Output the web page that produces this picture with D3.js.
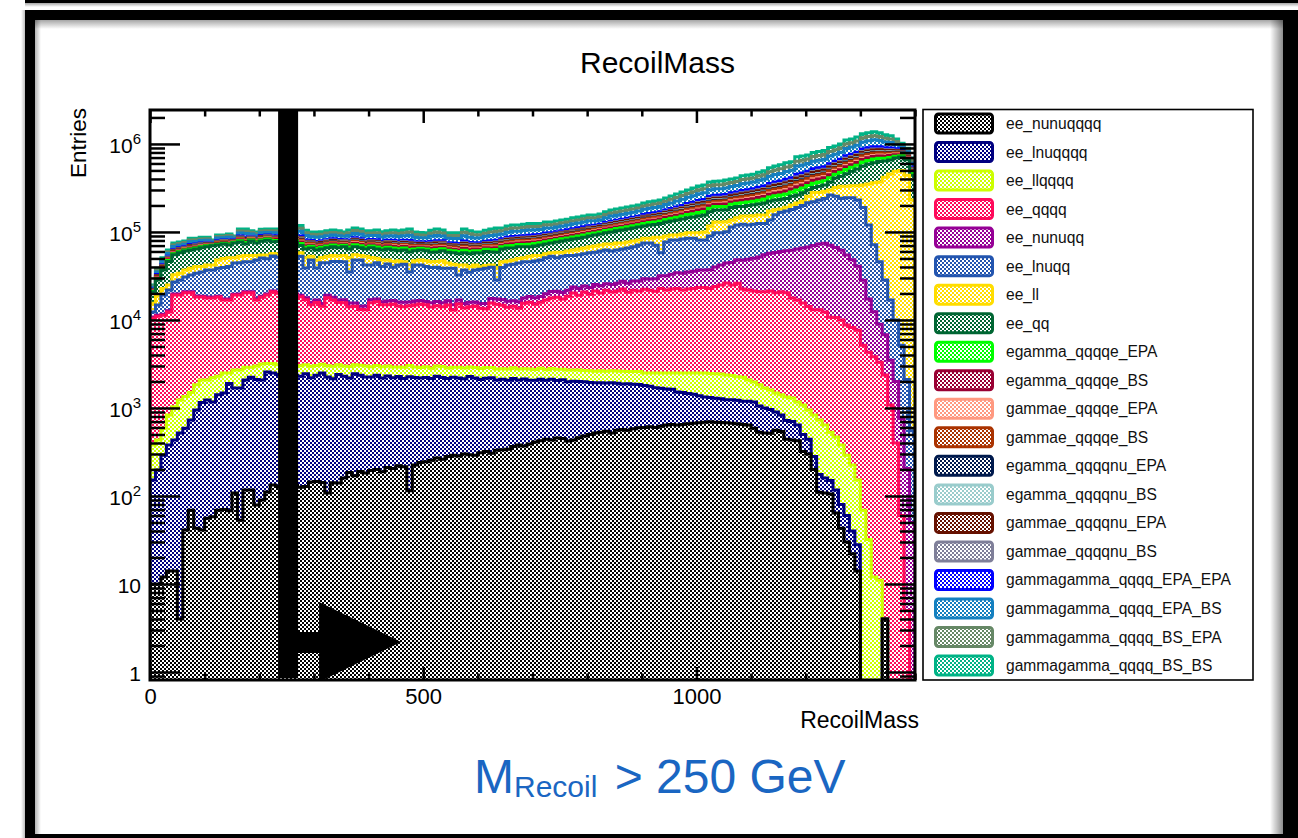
<!DOCTYPE html>
<html>
<head>
<meta charset="utf-8">
<script src="https://cdn.jsdelivr.net/npm/d3@7"></script>
<style>
html, body { margin: 0; padding: 0; background: #fff; }
svg { display: block; font-family: "Liberation Sans", Arial, Helvetica, sans-serif; }
</style>
</head>
<body>
<svg id="chart" width="1298" height="838"></svg>
<script>
// ---- histogram binning (GeV) ----
const binWidth = 10;
const xRange = [0, 1400];
const cutValue = 250;

// ---- samples, bottom of the stack first ----
const seriesNames = [
  "ee_nunuqqqq", "ee_lnuqqqq", "ee_llqqqq", "ee_qqqq", "ee_nunuqq", "ee_lnuqq", "ee_ll", "ee_qq",
  "egamma_qqqqe_EPA", "egamma_qqqqe_BS", "gammae_qqqqe_EPA", "gammae_qqqqe_BS",
  "egamma_qqqqnu_EPA", "egamma_qqqqnu_BS", "gammae_qqqqnu_EPA", "gammae_qqqqnu_BS",
  "gammagamma_qqqq_EPA_EPA", "gammagamma_qqqq_EPA_BS", "gammagamma_qqqq_BS_EPA", "gammagamma_qqqq_BS_BS"
];
const seriesColors = [
  "#000000", "#000080", "#ccff00", "#ff0a5a", "#960096", "#2355af", "#ffdd00", "#006633",
  "#00ff00", "#990033", "#ff9980", "#aa3300",
  "#001a4d", "#99cccc", "#661100", "#7f7f99",
  "#0000ff", "#1480c0", "#668866", "#00b386"
];

// ---- entries per bin ----
const ee_nunuqqqq = [10,10,12,14,14,4,41,69,43,41,
56,58,69,70,68,108,53,117,117,79,
90,111,133,128,135,140,132,126,128,144,
146,142,108,141,140,160,185,170,190,182,
195,200,188,210,205,220,215,115,225,240,
245,255,270,262,280,290,285,300,295,290,
310,320,305,330,335,340,365,380,370,390,
410,425,440,433,455,450,420,433,460,480,
500,520,530,545,520,560,570,560,580,595,
600,610,600,620,640,650,640,650,660,670,
680,690,695,690,685,680,670,660,650,640,
590,530,520,515,560,540,440,433,425,320,
300,200,110,108,105,64,43,30,22,14,
0,0,0,0,4,0,0,0,0,0];

const ee_lnuqqqq = [142,187,278,366,419,516,549,661,907,1109,
1174,1112,1341,1410,1832,1582,1637,1963,2123,2021,
1990,2449,2367,2270,2360,2320,2220,2170,2320,2060,
2200,2360,2140,2010,2260,2140,2010,2280,2160,2070,
2050,2150,2000,2100,2000,2060,1950,2150,2000,1950,
1980,1900,2020,1950,1880,1950,1900,1850,1980,1900,
1800,1850,1900,1750,1780,1720,1800,1700,1760,1680,
1650,1700,1620,1680,1600,1640,1560,1580,1540,1500,
1450,1420,1400,1380,1420,1350,1300,1330,1280,1250,
1200,1150,1100,1050,1000,980,880,850,800,760,
700,640,620,600,590,560,570,560,540,550,
580,520,480,445,340,290,280,267,215,180,
140,80,65,52,45,53,37,30,18,14,
0,0,0,0,0,0,0,0,0,0];

const ee_llqqqq = [228,236,300,450,600,710,760,770,880,930,
850,1030,890,1020,600,1010,1010,820,660,900,
1070,640,700,700,650,720,680,720,650,780,
700,640,760,820,690,700,760,640,700,740,
700,680,760,690,720,650,740,780,700,690,
720,680,700,740,690,660,720,700,650,700,
690,720,680,700,670,720,690,700,660,710,
680,700,650,690,700,660,720,680,700,690,
700,680,720,690,700,720,740,710,730,750,
700,740,800,830,860,870,980,1000,1040,1070,
1120,1170,1150,1150,1150,1130,1100,1050,1050,890,
800,780,690,640,580,580,610,600,530,580,
510,550,555,480,380,350,300,230,185,124,
69,32,12,11,0,0,0,0,0,0];

const ee_qqqq = [10100,10600,10700,11500,18200,18000,19000,18900,16400,16100,
15700,15600,15900,14400,14400,16500,16500,17500,17500,13900,
15000,16000,17700,17000,16500,17000,16000,15300,13900,11900,
12700,11200,14900,13900,12700,12700,11200,11200,10100,10100,
12700,13100,11900,11900,12300,11500,11200,11500,11900,12300,
11900,11200,11500,11200,11900,10100,12300,10800,11200,11500,
10800,10500,12700,12300,11900,11200,11500,10800,12700,13100,
12300,13100,14100,15000,15400,14500,15900,17600,16400,18100,
17000,18700,17600,19200,18100,18700,19800,18100,19200,18700,
19800,19200,18700,20300,19400,20000,20300,19400,20000,20300,
20900,20900,20300,21600,22600,23900,22600,23900,20300,19800,
19400,19100,19200,19800,18900,19500,19000,16500,15700,14500,
13300,12200,12300,11700,10200,10200,9600,8500,8000,7500,
5100,4270,3800,3300,2370,1080,400,60,5,0];

const ee_nunuqq = [300,300,300,400,500,500,500,500,450,400,
400,400,450,450,400,400,500,500,500,500,
500,500,500,600,600,700,700,800,900,1000,
1100,1000,1200,1200,1100,1300,1400,1300,1200,1300,
1300,1200,1300,1500,1400,1600,1800,1500,1600,1500,
1400,1600,1700,1500,1800,1900,1600,1700,1800,1600,
1800,2000,1900,2200,2400,2300,2200,2500,2300,2600,
2800,2600,3000,3200,3000,3300,3100,3400,3600,3500,
3800,4000,4200,4000,4500,4800,5200,5500,6000,6500,
7000,7500,8200,9000,9800,10500,11500,12000,12500,13000,
13500,13600,14500,16000,17000,18000,20000,22000,25000,27000,
29000,31000,34000,36000,38000,39000,41000,44000,47000,50000,
53000,57000,60000,62000,60000,56000,52000,46000,40000,33000,
23000,13000,8600,5600,4400,2400,1600,700,200,50];

const ee_lnuqq = [1500,3500,7600,9200,7300,8800,10000,11600,15300,16400,
18800,18800,20000,22200,23200,24900,24900,25000,25000,30600,
32000,30000,32000,31000,30000,32000,31000,34000,21000,32000,
22000,29300,25500,28000,29300,29000,19400,32500,33800,27700,
25300,27300,24400,26700,23000,26200,27000,19100,25800,25500,
24300,23800,23500,23000,22100,23800,15700,21500,19000,20900,
22200,23200,22100,11100,22400,25700,26300,28200,28100,27400,
29000,29400,31100,32000,29800,32400,32200,30200,32200,32100,
34500,33600,36400,36500,35600,36200,36300,39600,40100,43100,
45500,45600,41400,26200,45200,48000,46700,49000,50000,49200,
44100,44000,52700,58000,56000,56000,69000,72000,74500,71000,
72000,73000,70000,79600,98000,107000,112000,118000,126000,134000,
147000,150000,158000,166000,192000,188000,178000,190000,197000,190000,
162000,103000,59000,37000,21700,13400,8000,4400,1900,500];

const ee_ll = [3200,3900,3600,3100,5500,5500,6000,6200,6500,5500,
5200,5200,9300,10400,10500,6500,8500,8000,8000,6000,
4000,5000,3500,4000,4500,4000,4500,5000,12000,5000,
9000,6500,8500,8000,7000,8000,16000,7000,6000,11000,
9000,5500,7500,5000,6400,4800,3000,7200,4800,5800,
6500,6400,6400,8300,5800,4300,9700,5200,5500,5200,
2700,3000,2600,11000,6400,4800,5000,5500,5000,7000,
7000,6000,5500,5000,8000,6000,7000,8400,9000,9500,
10000,10500,10000,10600,12000,12600,11000,11000,11000,10000,
10000,10000,16000,29000,13000,11500,11500,12000,13000,13000,
17000,19000,27000,32000,32000,30000,23000,25000,30000,32000,
30000,31000,31000,36000,22000,15000,17000,23000,24000,25000,
41000,60000,49000,50000,37000,65000,90000,85000,90000,104000,
152000,230000,290000,324000,390000,440000,480000,495000,440000,230000];

const ee_qq = [5300,9800,14200,21000,22500,24000,24000,23700,23500,25500,
25800,27300,23000,23000,20000,24000,24000,19000,25000,21000,
24000,26000,20500,22000,20000,23000,21000,12000,13000,13000,
14400,13000,13000,14000,13000,14000,13000,13000,12000,11000,
15000,14000,14400,16000,16400,14000,16400,17000,14000,14400,
14000,13000,13000,14000,14500,15000,14300,15800,16000,15800,
17500,18500,16800,19400,18000,19000,18000,18000,17000,15000,
15500,17000,16500,17000,18000,20000,20000,20600,21000,21000,
22000,23000,24000,25000,27000,28000,30000,31000,32000,33000,
32000,35000,35000,38000,40000,41000,44000,45000,47000,50000,
54000,56000,53000,48000,48000,48000,53000,50000,43000,48000,
51000,52000,58000,52000,53000,53000,50000,52000,49000,55000,
45000,40000,50000,52000,70000,90000,100000,130000,155000,185000,
220000,240000,250000,260000,220000,200000,200000,210000,220000,210000];

const egamma_qqqqe_EPA = [340,800,1100,1300,1600,1500,1400,1800,1700,1700,
1500,920,1700,1600,1900,1200,2500,2800,1900,2000,
2300,2200,2500,2400,2600,2500,2600,3800,3300,2700,
3000,2900,3000,3000,3000,2600,3300,3400,3400,3100,
3000,3300,3000,3100,3400,3400,3400,3900,3100,2900,
3000,3700,3900,3500,3100,3200,3300,4000,3700,3400,
3400,3500,3900,4200,3800,4100,4300,4200,4300,4600,
4400,4300,4600,4400,4500,4600,4700,5000,5000,5200,
5300,5100,5200,5800,6200,6300,6600,6700,6900,7100,
7800,8000,8200,8500,9000,9800,10600,11500,12400,13400,
14500,14900,16000,16000,16000,16800,16800,17200,19200,19500,
20000,21600,22400,24800,26400,27700,29600,30000,36000,36000,
36000,38400,39200,40000,43200,43200,45600,52000,52000,54400,
59200,60000,60800,56800,50400,46400,36000,24800,18400,20000];

const egamma_qqqqe_BS = [250,600,840,980,1200,1140,1080,1360,1260,1260,
1140,690,1290,1170,1440,900,1860,2100,1440,1500,
1740,1620,1860,1800,1920,1860,1980,2880,2460,2040,
2280,2160,2220,2220,2220,1920,2460,2580,2520,2340,
2220,2460,2280,2340,2580,2520,2580,2940,2340,2160,
2220,2760,2940,2640,2340,2400,2490,3000,2790,2520,
2520,2640,2940,3120,2820,3060,3240,3120,3240,3420,
3330,3240,3420,3300,3360,3480,3540,3720,3780,3900,
3960,3810,3900,4320,4680,4740,4920,5040,5160,5340,
5820,6000,6180,6360,6780,7320,7980,8640,9300,10020,
10860,11160,12000,12000,12000,12600,12600,12900,14400,14640,
15000,16200,16800,18600,19800,20760,22200,22500,27000,27000,
27000,28800,29400,30000,32400,32400,34200,39000,39000,40800,
44400,45000,45600,42600,37800,34800,27000,18600,13800,15000];

const gammae_qqqqe_EPA = [130,300,420,490,600,570,540,680,630,630,
570,350,650,590,720,450,930,1050,720,750,
870,810,930,900,960,930,990,1440,1230,1020,
1140,1080,1110,1110,1110,960,1230,1290,1260,1170,
1110,1230,1140,1170,1290,1260,1290,1470,1170,1080,
1110,1380,1470,1320,1170,1200,1250,1500,1400,1260,
1260,1320,1470,1560,1410,1530,1620,1560,1620,1710,
1670,1620,1710,1650,1680,1740,1770,1860,1890,1950,
1980,1910,1950,2160,2340,2370,2460,2520,2580,2670,
2910,3000,3090,3180,3390,3660,3990,4320,4650,5010,
5430,5580,6000,6000,6000,6300,6300,6450,7200,7320,
7500,8100,8400,9300,9900,10380,11100,11250,13500,13500,
13500,14400,14700,15000,16200,16200,17100,19500,19500,20400,
22200,22500,22800,21300,18900,17400,13500,9300,6900,7500];

const gammae_qqqqe_BS = [270,640,800,1050,1150,1200,1000,1400,1300,1200,
1200,720,1250,1100,1500,950,1800,2000,1500,1450,
1800,1700,1800,1850,1900,1900,2050,2800,2400,2100,
2200,2250,2300,2150,2300,2000,2400,2500,2600,2300,
2300,2400,2350,2300,2500,2600,2500,2900,2400,2200,
2300,2700,2850,2700,2300,2450,2550,2900,2850,2450,
2600,2700,2850,3200,2900,3000,3300,3050,3300,3350,
3400,3200,3500,3250,3400,3550,3450,3800,3700,4000,
4050,3750,4000,4250,4750,4650,5000,4950,5250,5250,
5900,5900,6300,6250,6900,7200,8100,8500,9400,9900,
11000,11000,12200,11800,12200,12400,12800,12700,14600,14400,
15300,16000,17100,18300,20100,20500,22600,22200,27400,26600,
27500,28400,29900,29600,32900,32000,34700,38500,39600,40200,
45000,44500,46200,42000,38400,34300,27400,18300,14000,14800];

const egamma_qqqqnu_EPA = [84,200,280,330,400,380,360,450,420,420,
380,230,430,390,480,300,620,700,480,500,
580,540,620,600,640,620,660,960,820,680,
760,720,740,740,740,640,820,860,840,780,
740,820,760,780,860,840,860,980,780,720,
740,920,980,880,780,800,830,1000,930,840,
840,880,980,1040,940,1020,1080,1040,1080,1140,
1110,1080,1140,1100,1120,1160,1180,1240,1260,1300,
1320,1270,1300,1440,1560,1580,1640,1680,1720,1780,
1940,2000,2060,2120,2260,2440,2660,2880,3100,3340,
3620,3720,4000,4000,4000,4200,4200,4300,4800,4880,
5000,5400,5600,6200,6600,6920,7400,7500,9000,9000,
9000,9600,9800,10000,10800,10800,11400,13000,13000,13600,
14800,15000,15200,14200,12600,11600,9000,6200,4600,5000];

const egamma_qqqqnu_BS = [90,190,290,320,410,370,370,440,430,410,
390,220,440,380,490,290,630,690,490,490,
590,530,630,590,650,610,670,950,830,670,
770,710,750,730,750,630,830,850,850,770,
750,810,770,770,870,830,870,970,790,710,
750,910,990,870,790,790,840,990,940,830,
850,870,990,1030,950,1010,1090,1030,1090,1130,
1120,1070,1150,1090,1130,1150,1190,1230,1270,1290,
1330,1260,1310,1430,1570,1570,1650,1670,1730,1770,
1950,1990,2070,2110,2270,2430,2670,2870,3110,3330,
3630,3710,4010,3990,4010,4190,4210,4290,4810,4870,
5010,5390,5610,6190,6610,6910,7410,7490,9010,8990,
9010,9590,9810,9990,10810,10790,11410,12990,13010,13590,
14810,14990,15210,14190,12610,11590,9010,6190,4610,4990];

const gammae_qqqqnu_EPA = [210,500,700,820,1000,950,900,1130,1050,1050,
950,580,1080,980,1200,750,1550,1750,1200,1250,
1450,1350,1550,1500,1600,1550,1650,2400,2050,1700,
1900,1800,1850,1850,1850,1600,2050,2150,2100,1950,
1850,2050,1900,1950,2150,2100,2150,2450,1950,1800,
1850,2300,2450,2200,1950,2000,2080,2500,2330,2100,
2100,2200,2450,2600,2350,2550,2700,2600,2700,2850,
2780,2700,2850,2750,2800,2900,2950,3100,3150,3250,
3300,3180,3250,3600,3900,3950,4100,4200,4300,4450,
4850,5000,5150,5300,5650,6100,6650,7200,7750,8350,
9050,9300,10000,10000,10000,10500,10500,10750,12000,12200,
12500,13500,14000,15500,16500,17300,18500,18750,22500,22500,
22500,24000,24500,25000,27000,27000,28500,32500,32500,34000,
37000,37500,38000,35500,31500,29000,22500,15500,11500,12500];

const gammae_qqqqnu_BS = [120,310,400,510,580,590,520,700,610,650,
550,360,630,610,700,470,900,1080,700,770,
850,830,900,920,940,950,970,1400,1250,1000,
1160,1060,1130,1090,1130,940,1250,1270,1280,1150,
1130,1210,1160,1150,1310,1240,1310,1450,1190,1060,
1130,1360,1490,1300,1190,1180,1270,1480,1420,1240,
1280,1300,1490,1540,1430,1510,1640,1540,1640,1690,
1690,1600,1730,1630,1700,1720,1790,1840,1910,1930,
2000,1890,1970,2140,2370,2340,2490,2490,2610,2640,
2940,2970,3120,3150,3430,3620,4030,4280,4700,4960,
5490,5520,6070,5940,6060,6240,6370,6380,7280,7250,
7580,8020,8490,9210,10000,10280,11200,11140,13600,13370,
13640,14260,14850,14850,16360,16040,17270,19310,19700,20200,
22400,22300,23000,21100,19100,17200,13600,9200,7000,7400];

const gammagamma_qqqq_EPA_EPA = [290,700,980,1150,1400,1330,1260,1580,1470,1470,
1330,800,1500,1370,1680,1050,2170,2450,1680,1750,
2030,1890,2170,2100,2240,2170,2310,3360,2870,2380,
2660,2520,2590,2590,2590,2240,2870,3010,2940,2730,
2590,2870,2660,2730,3010,2940,3010,3430,2730,2520,
2590,3220,3430,3080,2730,2800,2900,3500,3260,2940,
2940,3080,3430,3640,3290,3570,3780,3640,3780,3990,
3890,3780,3990,3850,3920,4060,4130,4340,4410,4550,
4620,4450,4550,5040,5460,5530,5740,5880,6020,6230,
6790,7000,7210,7420,7910,8540,9310,10080,10850,11690,
12670,13020,14000,14000,14000,14700,14700,15050,16800,17080,
17500,18900,19600,21700,23100,24220,25900,26250,31500,31500,
31500,33600,34300,35000,37800,37800,39900,45500,45500,47600,
51800,52500,53200,49700,44100,40600,31500,21700,16100,17500];

const gammagamma_qqqq_EPA_BS = [1000,2400,3400,3900,4800,4600,4300,5400,5000,5000,
4600,2800,5200,4700,5800,3600,7400,8400,5800,6000,
7000,6500,7400,7200,7700,7400,7900,11500,9800,8200,
9100,8600,8900,8900,8900,7700,9800,10300,10100,9400,
8900,9800,9100,9400,10300,10100,10300,11800,9400,8600,
8900,11000,11800,10600,9400,9600,10000,12000,11200,10100,
10100,10600,11800,12500,11300,12200,13000,12500,13000,13700,
13300,13000,13700,13200,13400,13900,14200,14900,15100,15600,
15800,15200,15600,17300,18700,19000,19700,20200,20600,21400,
23300,24000,24700,25400,27100,29300,31900,34600,37200,40100,
43400,44600,48000,48000,48000,50400,50400,51600,57600,58600,
60000,64800,67200,74400,79200,83000,88800,90000,108000,108000,
108000,115000,118000,120000,130000,130000,137000,156000,156000,163000,
178000,180000,182000,170000,151000,139000,108000,74400,55200,60000];

const gammagamma_qqqq_BS_EPA = [710,1700,2400,2800,3400,3200,3100,3800,3600,3600,
3200,2000,3700,3300,4100,2600,5300,6000,4100,4300,
4900,4600,5300,5100,5400,5300,5600,8200,7000,5800,
6500,6100,6300,6300,6300,5400,7000,7300,7100,6600,
6300,7000,6500,6600,7300,7100,7300,8300,6600,6100,
6300,7800,8300,7500,6600,6800,7100,8500,7900,7100,
7100,7500,8300,8800,8000,8700,9200,8800,9200,9700,
9400,9200,9700,9400,9500,9900,10000,10500,10700,11100,
11200,10800,11100,12200,13300,13400,13900,14300,14600,15100,
16500,17000,17500,18000,19200,20700,22600,24500,26400,28400,
30800,31600,34000,34000,34000,35700,35700,36600,40800,41500,
42500,45900,47600,52700,56100,58800,62900,63800,76500,76500,
76500,81600,83300,85000,91800,91800,96900,110500,110500,115600,
125800,127500,129200,120700,107100,98600,76500,52700,39100,42500];

const gammagamma_qqqq_BS_BS = [700,1750,2350,2850,3350,3250,3050,3850,3550,3650,
3150,2050,3650,3350,4050,2650,5250,6050,4050,4350,
4850,4650,5250,5150,5350,5350,5550,8250,6950,5850,
6450,6150,6250,6350,6250,5450,6950,7350,7050,6650,
6250,7050,6450,6650,7250,7150,7250,8350,6550,6150,
6250,7850,8250,7550,6550,6850,7050,8550,7850,7150,
7050,7550,8250,8850,7950,8750,9150,8850,9150,9750,
9350,9250,9650,9450,9450,9950,9950,10550,10650,11150,
11150,10850,11050,12250,13250,13450,13850,14350,14550,15150,
16450,17050,17450,18050,19150,20750,22550,24550,26350,28450,
30750,31650,33950,34050,33950,35750,35650,36650,40750,41550,
42450,45950,47550,52750,56050,58850,62850,63850,76450,76550,
76450,81650,83250,85050,91750,91850,96850,110550,110450,115650,
125750,127550,129150,120750,107050,98650,76450,52750,39050,42550];

const seriesValues = [
  ee_nunuqqqq, ee_lnuqqqq, ee_llqqqq, ee_qqqq, ee_nunuqq, ee_lnuqq, ee_ll, ee_qq,
  egamma_qqqqe_EPA, egamma_qqqqe_BS, gammae_qqqqe_EPA, gammae_qqqqe_BS,
  egamma_qqqqnu_EPA, egamma_qqqqnu_BS, gammae_qqqqnu_EPA, gammae_qqqqnu_BS,
  gammagamma_qqqq_EPA_EPA, gammagamma_qqqq_EPA_BS, gammagamma_qqqq_BS_EPA, gammagamma_qqqq_BS_BS
];

// ---- axis ticks ----
const xMajorTicks = [0, 500, 1000];
const yMajorTicks = [1, 10, 100, 1000, 10000, 100000, 1000000];

// ================= drawing =================
const W = 1298, H = 838;
const plot = { left: 150, right: 915, top: 110, bottom: 680 };
const yDomain = [0.811, 2.43e6];
const FONT = '"Liberation Sans", Arial, Helvetica, sans-serif';

const svg = d3.select("#chart");
const defs = svg.append("defs");

// checkerboard fill per sample
seriesNames.forEach((name, i) => {
  const p = defs.append("pattern")
    .attr("id", "pat" + i).attr("width", 4).attr("height", 4)
    .attr("patternUnits", "userSpaceOnUse");
  p.append("rect").attr("width", 4).attr("height", 4).attr("fill", "#fff");
  p.append("rect").attr("width", 2).attr("height", 2).attr("fill", seriesColors[i]);
  p.append("rect").attr("x", 2).attr("y", 2).attr("width", 2).attr("height", 2).attr("fill", seriesColors[i]);
});

// soft shading used along the slide frame
function addGrad(id, x1, y1, x2, y2, stops) {
  const g = defs.append("linearGradient").attr("id", id)
    .attr("x1", x1).attr("y1", y1).attr("x2", x2).attr("y2", y2);
  stops.forEach(s => g.append("stop").attr("offset", s[0]).attr("stop-color", "#000").attr("stop-opacity", s[1]));
}
addGrad("shTop", 0, 0, 0, 1, [[0, 0.35], [1, 0]]);
addGrad("shLeft", 0, 0, 1, 0, [[0, 0.3], [1, 0]]);
addGrad("shRight", 0, 0, 1, 0, [[0, 0], [1, 0.45]]);
addGrad("shOut", 0, 0, 1, 0, [[0, 0], [1, 0.25]]);

defs.append("clipPath").attr("id", "plotClip")
  .append("rect").attr("x", plot.left).attr("y", plot.top)
  .attr("width", plot.right - plot.left).attr("height", plot.bottom - plot.top);

// background and slide frame
svg.append("rect").attr("width", W).attr("height", H).attr("fill", "#fff");
svg.append("rect").attr("x", 25).attr("y", 0).attr("width", W - 25).attr("height", 3).attr("fill", "#000");
svg.append("rect").attr("x", 25).attr("y", 3).attr("width", W - 25).attr("height", 4).attr("fill", "url(#shTop)");
svg.append("rect").attr("x", 21).attr("y", 10).attr("width", 4).attr("height", H - 10).attr("fill", "url(#shOut)");
svg.append("path")
  .attr("d", `M25,10H${W}V${H}H25Z M35,20V834H1283V20Z`)
  .attr("fill", "#000").attr("fill-rule", "evenodd");
svg.append("rect").attr("x", 35).attr("y", 20).attr("width", 1248).attr("height", 9).attr("fill", "url(#shTop)");
svg.append("rect").attr("x", 35).attr("y", 20).attr("width", 6).attr("height", 814).attr("fill", "url(#shLeft)");
svg.append("rect").attr("x", 1270).attr("y", 20).attr("width", 13).attr("height", 814).attr("fill", "url(#shRight)");

// scales
const x = d3.scaleLinear().domain(xRange).range([plot.left, plot.right]);
const y = d3.scaleLog().domain(yDomain).range([plot.bottom, plot.top]);
const yPix = v => (v > yDomain[0] ? y(v) : plot.bottom + 5);

// stacked histogram
const nBins = ee_nunuqqqq.length;
const rows = d3.range(nBins).map(i => {
  const r = { bin: i };
  seriesNames.forEach((n, k) => { r[n] = seriesValues[k][i]; });
  return r;
});
const stacked = d3.stack().keys(seriesNames)(rows);

const area = d3.area().curve(d3.curveStepAfter)
  .x(d => x(d[0])).y0(plot.bottom + 5).y1(d => yPix(d[1]));
const line = d3.line().curve(d3.curveStepAfter)
  .x(d => x(d[0])).y(d => yPix(d[1]));

const histG = svg.append("g").attr("clip-path", "url(#plotClip)");

// each sample is painted from the axis floor up to its cumulative height,
// top of the stack first so lower samples are drawn over it
for (let k = stacked.length - 1; k >= 0; k--) {
  const layer = stacked[k];
  const pts = layer.map((d, i) => [i * binWidth, d[1]]);
  pts.push([nBins * binWidth, layer[nBins - 1][1]]);
  histG.append("path").attr("d", area(pts)).attr("fill", `url(#pat${k})`);
  const outline = [[0, 0]].concat(pts, [[nBins * binWidth, 0]]);
  histG.append("path").attr("d", line(outline))
    .attr("fill", "none").attr("stroke", seriesColors[k])
    .attr("stroke-width", 3).attr("stroke-linejoin", "miter");
}

// cut marker at the recoil-mass threshold
const cx = x(cutValue);
const arrowPath = [
  `M${cx - 8.5},${plot.top}`, `H${cx + 11.5}`, "V632", `H${cx + 32.5}`, "V602",
  `L${cx + 114.5},642`, `L${cx + 32.5},682`, "V653", `H${cx + 11.5}`, "V678", `H${cx - 8.5}`, "Z"
].join(" ");
histG.append("path").attr("d", arrowPath).attr("fill", "#000");

// axes (ticks drawn inside the frame)
const yMinorTicks = [];
for (let e = -1; e <= 6; e++) {
  for (let m = 2; m <= 9; m++) {
    const v = m * Math.pow(10, e);
    if (v > yDomain[0] && v < yDomain[1]) yMinorTicks.push(v);
  }
}
const xMinorTicks = d3.range(xRange[0], xRange[1] + 1, 100).filter(v => !xMajorTicks.includes(v));

function styleAxis(g) {
  g.select(".domain").remove();
  g.selectAll(".tick line").attr("stroke", "#000").attr("stroke-width", 2.5);
}
svg.append("g").attr("transform", `translate(${plot.left},0)`)
  .call(d3.axisLeft(y).tickValues(yMinorTicks).tickSize(-15).tickFormat("")).call(styleAxis);
svg.append("g").attr("transform", `translate(${plot.left},0)`)
  .call(d3.axisLeft(y).tickValues(yMajorTicks).tickSize(-30).tickFormat("")).call(styleAxis);
svg.append("g").attr("transform", `translate(${plot.right},0)`)
  .call(d3.axisRight(y).tickValues(yMinorTicks).tickSize(-15).tickFormat("")).call(styleAxis);
svg.append("g").attr("transform", `translate(${plot.right},0)`)
  .call(d3.axisRight(y).tickValues(yMajorTicks).tickSize(-30).tickFormat("")).call(styleAxis);

svg.append("g").attr("transform", `translate(0,${plot.top})`)
  .call(d3.axisTop(x).tickValues(xMinorTicks).tickSize(-6.5).tickFormat("")).call(styleAxis);
svg.append("g").attr("transform", `translate(0,${plot.top})`)
  .call(d3.axisTop(x).tickValues(xMajorTicks).tickSize(-13).tickFormat("")).call(styleAxis);
svg.append("g").attr("transform", `translate(0,${plot.bottom})`)
  .call(d3.axisBottom(x).tickValues(xMinorTicks).tickSize(-6.5).tickFormat("")).call(styleAxis);
const xAxisG = svg.append("g").attr("transform", `translate(0,${plot.bottom})`)
  .call(d3.axisBottom(x).tickValues(xMajorTicks).tickSize(-13).tickPadding(8).tickFormat(d3.format("d")))
  .call(styleAxis);
xAxisG.attr("font-family", FONT).attr("font-size", 22);
xAxisG.selectAll(".tick text").attr("fill", "#000");

// frame
svg.append("rect").attr("x", plot.left).attr("y", plot.top)
  .attr("width", plot.right - plot.left).attr("height", plot.bottom - plot.top)
  .attr("fill", "none").attr("stroke", "#000").attr("stroke-width", 3);

// log-axis labels with exponents
const yLab = svg.append("g").attr("font-family", FONT).attr("fill", "#000");
yMajorTicks.forEach(v => {
  const e = Math.round(Math.log10(v));
  const t = yLab.append("text").attr("x", 141).attr("y", y(v) + 9)
    .attr("text-anchor", "end").attr("font-size", 21);
  if (e === 0) t.text("1");
  else if (e === 1) t.text("10");
  else {
    t.append("tspan").text("10");
    t.append("tspan").attr("dy", -9).attr("font-size", 15).text(e);
  }
});

// titles
svg.append("text").attr("x", 657.5).attr("y", 73).attr("text-anchor", "middle")
  .attr("font-family", FONT).attr("font-size", 30).attr("fill", "#000").text("RecoilMass");
svg.append("text").attr("x", 919).attr("y", 728).attr("text-anchor", "end")
  .attr("font-family", FONT).attr("font-size", 23).attr("fill", "#000").text("RecoilMass");
svg.append("text").attr("transform", "translate(86,108) rotate(-90)").attr("text-anchor", "end")
  .attr("font-family", FONT).attr("font-size", 22.5).attr("fill", "#000").text("Entries");

// legend
const lg = svg.append("g").attr("font-family", FONT);
lg.append("rect").attr("x", 923).attr("y", 109.5).attr("width", 330).attr("height", 570.5)
  .attr("fill", "#fff").attr("stroke", "#000").attr("stroke-width", 1.6);
seriesNames.forEach((name, i) => {
  const cy = 123.5 + i * 28.53;
  lg.append("rect").attr("x", 935.5).attr("y", cy - 9.5).attr("width", 57).attr("height", 19).attr("rx", 3)
    .attr("fill", `url(#pat${i})`).attr("stroke", seriesColors[i]).attr("stroke-width", 3);
  lg.append("text").attr("x", 1006).attr("y", cy + 5.5).attr("font-size", 15.6).attr("fill", "#111").text(name);
});

// selection annotation
const note = svg.append("text").attr("x", 474).attr("y", 793)
  .attr("font-family", FONT).attr("fill", "#1a66c2");
note.append("tspan").attr("font-size", 48).text("M");
note.append("tspan").attr("font-size", 30).attr("dy", 4).text("Recoil");
note.append("tspan").attr("font-size", 48).attr("dy", -4).attr("dx", 4).text(` > ${cutValue} GeV`);
</script>
</body>
</html>
